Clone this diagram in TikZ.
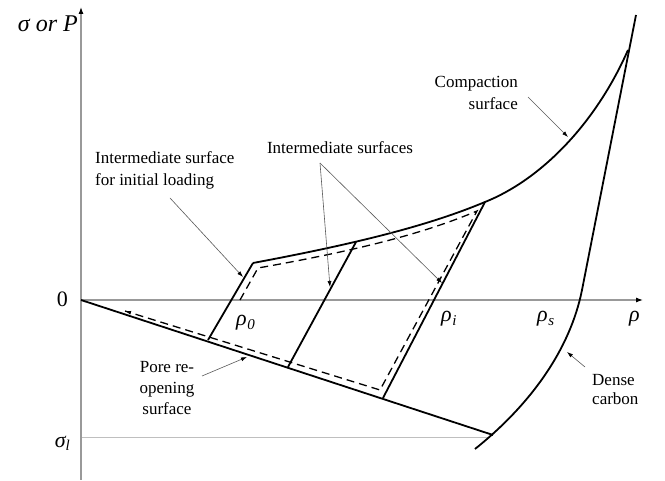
\documentclass[tikz,border=0pt]{standalone}
\usepackage{fontspec}
\setmainfont{Liberation Serif}
\usetikzlibrary{arrows.meta,calc}
\newcommand{\rhosub}[1]{{\itshape ρ\kern0.5pt\raisebox{-0.3ex}{\fontsize{15}{15}\selectfont #1}}}
\begin{document}
\begin{tikzpicture}[x=1pt,y=-1pt,
  surf/.style={line width=1.8pt,black,line join=miter},
  axisline/.style={line width=1.1pt,black!40,-{Latex[length=7pt,width=5pt,color=black]}},
  leader/.style={line width=0.6pt,black!65,-{Latex[length=6pt,width=4pt,color=black]}},
  dashpath/.style={line width=1.3pt,black,dash pattern=on 8pt off 5pt},
  lbl/.style={inner sep=0pt,font=\fontsize{17}{22}\selectfont},
  mlbl/.style={inner sep=0pt,font=\fontsize{22}{22}\selectfont}
]
\useasboundingbox (0,0) rectangle (665,481);

% axes
\coordinate (O) at (81,300);
\coordinate (ybot) at (81,480);
\coordinate (ytop) at (81,7);
\coordinate (xend) at (643,300);
\coordinate (sl) at (81,437);
\coordinate (slend) at (490,437);
\draw[line width=0.8pt,black!25] (sl) -- (slend);
\draw[axisline] (ybot) -- (ytop);
\draw[axisline] (O) -- (xend);

% key points
\coordinate (A0t) at (253,263);
\coordinate (A0b) at (208,340);
\coordinate (Mt) at (356,242);
\coordinate (Mb) at (288,367);
\coordinate (It) at (485,202);
\coordinate (Ib) at (383,398);
\coordinate (Pend) at (493,435);
\coordinate (Dbot) at (475,449);
\coordinate (Dmid) at (582,290);
\coordinate (Dtop) at (636,15);
\coordinate (Ctop) at (628,50);

% surfaces
\draw[surf] (O) -- (Pend);
\draw[surf] (A0b) -- (A0t);
\draw[surf] (A0t) .. controls (360,243) and (430,225) .. (It)
               .. controls (540,180) and (595,125) .. (Ctop);
\draw[surf] (Mb) -- (Mt);
\draw[surf] (Ib) -- (It);
\draw[surf] (Dbot) .. controls (530,405) and (570,350) .. (Dmid) -- (Dtop);

% dashed loading path
\coordinate (d1) at (240,300);
\coordinate (d2) at (258,268);
\coordinate (d3) at (477,211);
\coordinate (d4) at (380,390);
\coordinate (d5) at (125,311);
\coordinate (d5b) at (129,312.25);
\draw[dashpath] (d1) -- (d2) .. controls (360,250) and (425,233) .. (d3) -- (d4) -- (d5);
\draw[line width=1pt,-{Latex[length=6pt,width=4pt]}] (d5b) -- (d5);

% axis labels
\node[mlbl,anchor=base east,font=\fontsize{24}{24}\selectfont\itshape] (ylab) at (78,32) {σ or P};
\node[mlbl,anchor=base east] (zero) at (68,307) {0};
\node[mlbl,anchor=base east] (sigl) at (70,447) {{\itshape σ\raisebox{-0.3ex}{\fontsize{15}{15}\selectfont l}}};
\node[mlbl,anchor=base west] (r0) at (236,326) {\rhosub{0}};
\node[mlbl,anchor=base west] (ri) at (441,322) {\rhosub{i}};
\node[mlbl,anchor=base west] (rs) at (537,322) {\rhosub{s}};
\node[mlbl,anchor=base west,font=\fontsize{22}{22}\selectfont\itshape] (rho) at (629,322) {ρ};

% annotation labels
\node[lbl,anchor=north west,align=left] (tinit) at (95,151) {Intermediate surface\\for initial loading};
\node[lbl,anchor=north] (tinter) at (340,141) {Intermediate surfaces};
\node[lbl,anchor=north east,align=right] (tcomp) at (518,76) {Compaction\\surface};
\node[lbl,anchor=north west,align=left,font=\fontsize{17}{19}\selectfont] (tdense) at (592,374) {Dense\\carbon};
\node[lbl,anchor=north,align=center,font=\fontsize{17}{21}\selectfont] (tpore) at (167,361) {Pore re-\\opening\\surface};

% leaders
\coordinate (l1s) at (170,198); \coordinate (l1e) at (243,277);
\coordinate (l2s) at (320,163); \coordinate (l2e) at (330,287); \coordinate (l3e) at (442,283);
\coordinate (l4s) at (528,97);  \coordinate (l4e) at (568,137);
\coordinate (l5s) at (585,367); \coordinate (l5e) at (567,352);
\coordinate (l6s) at (202,376); \coordinate (l6e) at (247,357);
\draw[leader] (l1s) -- (l1e);
\draw[leader] (l2s) -- (l2e);
\draw[leader] (l2s) -- (l3e);
\draw[leader] (l4s) -- (l4e);
\draw[leader] (l5s) -- (l5e);
\draw[leader] (l6s) -- (l6e);
\end{tikzpicture}
\end{document}
